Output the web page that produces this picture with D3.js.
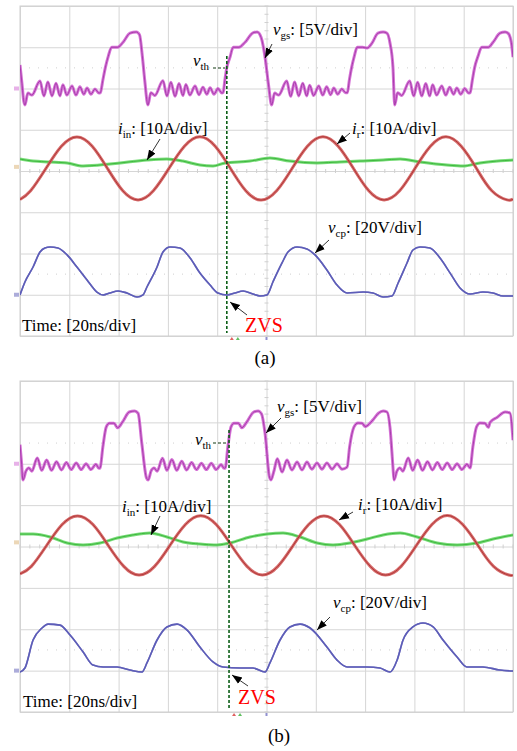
<!DOCTYPE html>
<html>
<head>
<meta charset="utf-8">
<script src="https://cdn.jsdelivr.net/npm/d3@7"></script>
<style>
  body { margin: 0; background: #fff; }
  svg text { font-family: "Liberation Serif", "DejaVu Serif", serif; fill: #000; }
</style>
</head>
<body>
<div id="container"></div>
<script>
// ---- data (time in ns, 20 ns/div; values in V or A) ----
var panelLabels = ["(a)", "(b)"];
var zvsTimeNs = [83.9, 84.8];

// channel settings: scale per div and ground offset (div from centre)
var channelNames = ["vgs", "iin", "ir", "vcp"];
var unitsPerDiv = [5, 10, 10, 20];
var groundDiv = [2, 0.1, 0.1, -3];

var vgsA = [[0,2.85],[0.8,0.6],[1.5,-1.5],[2.0,-2.0],[3.2,-0.55],[4.8,-0.8],[8.1,0.9],[9.7,-0.9],[11.3,0.8],[13.0,-0.9],[14.6,0.65],[16.2,-0.9],[17.4,0.45],[19.0,-0.8],[21.1,0.3],[22.7,-0.8],[24.3,0.2],[25.9,-0.7],[27.2,0.05],[28.8,-0.7],[30.4,-0.05],[32.0,-0.55],[32.6,-0.5],[33.6,1.0],[34.6,2.5],[35.8,3.9],[37.2,5.0],[39.6,5.0],[41.8,5.6],[44.6,6.7],[47.2,6.85],[48.5,6.5],[49.6,4.0],[50.6,1.0],[51.9,-2.0],
  [53.1,-0.5],[54.7,-0.85],[58.0,0.95],[59.6,-0.9],[61.2,0.75],[62.9,-0.95],[64.5,0.6],[66.1,-0.85],[67.3,0.5],[68.9,-0.8],[71.0,0.3],[72.6,-0.75],[74.2,0.15],[75.8,-0.7],[77.1,0.1],[78.7,-0.7],[80.3,0.0],[81.9,-0.55],[82.4,-0.5],[83.1,1.0],[83.8,2.4],[85.2,3.8],[86.5,5.0],[88.8,5.0],[91.3,5.6],[94.5,6.75],[96.2,6.85],[97.8,6.2],[99.4,3.8],[100.8,0.5],[102.1,-2.0],
  [103.3,-0.55],[104.9,-0.8],[108.2,0.9],[109.8,-0.95],[111.4,0.8],[113.1,-0.9],[114.7,0.65],[116.3,-0.9],[117.5,0.4],[119.1,-0.85],[121.2,0.3],[122.8,-0.8],[124.4,0.2],[126.0,-0.75],[127.3,0.05],[128.9,-0.7],[130.5,-0.05],[132.1,-0.5],[132.8,-0.5],[133.6,1.0],[134.5,2.5],[135.6,3.9],[136.8,5.0],[139.0,5.0],[140.8,4.9],[142.8,5.5],[145.2,6.7],[147.3,6.85],[148.9,6.7],[150.1,5.5],[151.3,2.6],[152.0,-2.0],
  [153.2,-0.5],[154.8,-0.85],[158.1,0.9],[159.7,-0.9],[161.3,0.75],[163.0,-0.9],[164.6,0.6],[166.2,-0.9],[167.4,0.45],[169.0,-0.8],[171.1,0.3],[172.7,-0.8],[174.3,0.15],[175.9,-0.7],[177.2,0.05],[178.8,-0.7],[180.4,0.0],[182.0,-0.55],[182.6,-0.5],[183.5,1.0],[184.4,2.5],[185.8,3.9],[187.3,5.0],[190.0,5.0],[191.9,5.6],[194.7,6.7],[196.8,6.85],[198.0,6.7],[199.3,5.6],[200,3.8]];

var irA = [[0,-7.9],[4.3,-5.8],[10.5,-0.4],[16.8,5.0],[23.1,7.25],[29.3,5.0],[35.5,-0.4],[41.7,-5.8],[47.9,-8.0],[54.1,-5.8],[60.4,-0.4],[66.7,5.0],[73.0,7.3],[79.2,5.0],[85.4,-0.4],[91.6,-5.8],[97.8,-8.05],[104.1,-5.8],[110.3,-0.45],[116.6,5.0],[122.9,7.3],[129.1,5.0],[135.3,-0.4],[141.5,-5.8],[147.7,-8.0],[154.0,-5.8],[160.2,-0.4],[166.5,5.0],[172.8,7.3],[179.0,5.0],[185.2,-0.4],[191.4,-5.8],[197.6,-8.0],[200,-7.8]];

var iinA = [[0,1.9],[5.3,1.4],[12.2,1.2],[19.1,0.95],[25.6,0.2],[36.5,0.7],[40.6,0.95],[51.5,1.65],[59.6,1.9],[66.1,1.4],[73.0,0.45],[78.3,0.2],[83.2,0.95],[93.3,1.4],[101.4,2.15],[109.5,1.4],[120.5,0.95],[129.8,1.2],[137.9,1.4],[147.3,1.65],[154.2,1.9],[162.3,1.2],[173.2,0.45],[179.7,0.2],[186.6,0.95],[200,1.65]];

var vcpA = [[0,-0.1],[2.0,6.2],[5.3,13.45],[8.1,20.7],[10.1,22.7],[12.2,23.15],[15.4,22.7],[19.1,19.3],[23.1,13.45],[27.2,7.15],[31.2,1.3],[33.7,-0.1],[36.5,0.85],[39.8,1.8],[43.4,0.85],[47.5,-1.1],[49.9,-0.1],[51.5,3.75],[55.6,13.45],[58.0,20.7],[60.9,23.15],[64.9,22.7],[69.0,17.8],[73.0,10.5],[77.1,4.7],[80.3,0.85],[84.0,-0.1],[87.2,0.85],[90.5,1.8],[94.5,0.35],[97.4,-0.6],[100.2,-0.1],[102.6,6.2],[106.3,15.4],[108.7,20.7],[112.4,23.15],[116.4,22.2],[119.7,19.3],[124.5,12.0],[128.6,4.7],[132.7,0.85],[139.2,1.3],[143.2,0.85],[147.3,-1.1],[150.9,-0.6],[153.4,5.7],[157.0,15.4],[159.4,21.7],[162.3,23.15],[166.3,22.7],[170.4,17.8],[174.5,10.5],[178.5,3.3],[182.6,0.35],[187.8,1.3],[191.9,0.85],[196.0,-0.6],[200,-0.6]];

var vgsB = [[0,2.3],[0.6,0.2],[1.2,-1.96],[2.4,-0.9],[3.6,-0.5],[4.8,-0.9],[7.0,0.7],[8.8,-0.8],[10.8,0.45],[12.8,-0.8],[14.8,0.25],[16.8,-0.75],[18.8,0.15],[20.8,-0.7],[22.8,0.1],[24.8,-0.7],[26.8,0.0],[28.8,-0.7],[30.8,-0.05],[32.0,-0.55],[32.5,-0.5],[33.6,2.0],[35.0,4.45],[36.3,4.9],[38.1,4.9],[39.6,4.35],[41.6,5.05],[44.3,6.25],[46.5,6.37],[47.9,6.1],[49.4,2.5],[51.3,-1.7],[52.0,-1.96],
  [53.2,-0.85],[54.4,-0.5],[55.6,-0.9],[57.8,0.65],[59.6,-0.8],[61.6,0.5],[63.6,-0.8],[65.6,0.3],[67.6,-0.75],[69.6,0.15],[71.6,-0.7],[73.6,0.05],[75.6,-0.7],[77.6,0.05],[79.6,-0.7],[81.6,-0.1],[82.8,-0.55],[83.3,-0.5],[84.3,2.0],[85.6,4.45],[86.8,4.9],[88.6,4.9],[90.0,4.35],[92.0,5.05],[94.8,6.25],[96.6,6.37],[98.0,6.0],[99.4,3.7],[101.2,-1.6],[101.8,-1.96],
  [103.0,-0.9],[104.4,0.6],[106.3,-1.0],[108.3,0.45],[110.3,-0.75],[112.4,0.2],[114.4,-0.75],[116.4,0.2],[118.4,-0.65],[120.5,0.1],[122.5,-0.65],[124.5,0.1],[126.6,-0.65],[128.6,0.0],[130.6,-0.65],[132.7,-0.4],[133.7,2.0],[135.5,4.45],[137.1,4.92],[138.8,4.9],[140.0,4.5],[143.2,5.3],[145.4,6.1],[147.3,6.37],[148.9,6.25],[150.1,4.4],[151.3,-0.4],[151.7,-1.96],
  [152.9,-0.9],[154.1,-0.5],[155.3,-0.9],[157.5,0.7],[159.3,-0.8],[161.3,0.45],[163.3,-0.8],[165.3,0.25],[167.3,-0.75],[169.3,0.15],[171.3,-0.7],[173.3,0.1],[175.3,-0.7],[177.3,0.0],[179.3,-0.7],[181.3,-0.05],[182.6,-0.5],[183.7,2.0],[185.2,4.45],[186.6,4.92],[188.6,4.9],[190.0,4.4],[190.7,5.0],[193.5,5.6],[196.8,6.25],[198.8,6.13],[200,2.85]];

var irB = [[0,-7.6],[4.6,-5.8],[10.8,-0.75],[17.1,4.3],[23.3,6.4],[29.6,4.3],[35.8,-0.75],[42.1,-5.8],[48.3,-7.9],[54.6,-5.8],[60.8,-0.75],[67.1,4.3],[73.3,6.45],[79.6,4.3],[85.8,-0.75],[92.1,-5.8],[98.3,-7.9],[104.6,-5.8],[110.8,-0.75],[117.1,4.3],[123.3,6.4],[129.6,4.3],[135.8,-0.75],[142.1,-5.8],[148.3,-7.9],[154.6,-5.8],[160.8,-0.75],[167.1,4.3],[173.3,6.5],[179.6,4.3],[185.8,-0.75],[192.1,-5.8],[198.3,-7.9],[200,-7.8]];

var iinB = [[0,2.0],[5.3,2.0],[12.2,1.3],[19.1,-0.15],[25.6,-0.63],[32.5,-0.15],[39.4,1.05],[45.8,1.8],[52.7,2.25],[59.6,1.3],[66.1,0.1],[73.0,-0.4],[79.9,-0.63],[85.2,-0.15],[93.3,1.3],[100.2,2.0],[106.7,2.25],[113.6,1.3],[120.5,-0.15],[127.0,-0.63],[133.9,-0.15],[140.8,0.8],[147.3,1.8],[154.2,2.25],[161.1,1.3],[169.2,-0.15],[177.3,-0.63],[185.4,-0.15],[191.9,0.8],[200,1.8]];

var vcpB = [[0,-0.7],[2.0,1.25],[5.3,14.8],[8.9,20.6],[11.4,22.5],[16.2,22.0],[20.3,17.2],[25.6,9.0],[29.6,2.7],[33.7,1.75],[39.4,1.75],[44.6,0.3],[49.5,-0.7],[51.5,3.7],[55.6,14.8],[59.6,21.1],[63.7,22.5],[67.8,19.6],[73.0,11.4],[78.3,4.2],[82.4,1.75],[89.3,1.25],[94.5,1.25],[99.4,-0.7],[101.4,3.7],[105.5,14.8],[109.5,21.1],[113.6,22.5],[117.7,20.6],[124.5,11.4],[128.6,5.1],[132.7,1.75],[140.8,1.75],[146.0,1.25],[150.1,-0.7],[153.0,5.1],[155.4,14.8],[159.4,21.1],[163.5,23.0],[167.6,21.1],[171.6,14.8],[177.3,6.6],[181.3,1.75],[187.8,1.75],[194.7,0.3],[200,-0.2]];

// ---- layout & style ----
var totalWidth = 517, totalHeight = 751;
var plotLeft = 20, plotWidth = 493;
var traceColors = {vgs: ["#d064d2", "#9c2fa0"], iin: ["#6ad86a", "#2fae2f"], ir: ["#d25a5a", "#a52a2a"], vcp: ["#5a5ab6", "#5a5ab6"]};
var traceWidths = {vgs: [3, 1], iin: [3, 1], ir: [3, 1], vcp: [1.6, 1.6]};
var serif = "'Liberation Serif', 'DejaVu Serif', serif";

// annotation layout (panel-local pixels)
var notesA = [
  {sym: "v", sub: "gs", rest: ": [5V/div]", x: 253, y: 29, arrow: [252, 38, 245, 52]},
  {sym: "i", sub: "in", rest: ": [10A/div]", x: 98, y: 128, arrow: [140, 133, 127, 154]},
  {sym: "i", sub: "r", rest: ": [10A/div]", x: 332, y: 128, arrow: [330, 127, 317, 138]},
  {sym: "v", sub: "cp", rest: ": [20V/div]", x: 308, y: 227, arrow: [309, 234, 295, 247]}
];
var notesB = [
  {sym: "v", sub: "gs", rest: ": [5V/div]", x: 257, y: 31, arrow: [261, 37, 246, 52]},
  {sym: "i", sub: "in", rest: ": [10A/div]", x: 102, y: 131, arrow: [140, 135, 131, 154]},
  {sym: "i", sub: "r", rest: ": [10A/div]", x: 338, y: 129, arrow: [333, 131, 319, 139]},
  {sym: "v", sub: "cp", rest: ": [20V/div]", x: 313, y: 227, arrow: [310, 236, 297, 249]}
];

var panels = [
  {top: 6, height: 330, label: panelLabels[0], labelX: 265, labelY: 364, zvs: zvsTimeNs[0],
   traces: {vgs: vgsA, iin: iinA, ir: irA, vcp: vcpA}, notes: notesA,
   vth: {x: 173, y: 60, dash: [193, 205, 62]}, zvsText: [225, 326], zvsArrow: [227, 309, 210, 296], timeText: [2, 325], lineTop: 50},
  {top: 381, height: 331, label: panelLabels[1], labelX: 279, labelY: 742, zvs: zvsTimeNs[1],
   traces: {vgs: vgsB, iin: iinB, ir: irB, vcp: vcpB}, notes: notesB,
   vth: {x: 175, y: 64, dash: [193, 208, 62]}, zvsText: [218, 323], zvsArrow: [228, 305, 212, 294], timeText: [3, 326], lineTop: 49}
];

var svg = d3.select("#container")
            .append("svg")
            .attr("width", totalWidth)
            .attr("height", totalHeight)
            .attr("font-family", serif);

var defs = svg.append("defs");
defs.append("marker")
    .attr("id", "arrowhead")
    .attr("viewBox", "0 0 10 10")
    .attr("refX", 10).attr("refY", 5)
    .attr("markerWidth", 10).attr("markerHeight", 10)
    .attr("markerUnits", "userSpaceOnUse")
    .attr("orient", "auto")
    .append("path").attr("d", "M0,1.2L10,5L0,8.8Z").attr("fill", "#000");

var xScale = d3.scaleLinear().domain([0, 200]).range([0, plotWidth]);
var xDiv = d3.scaleLinear().domain([0, 10]).range([0, plotWidth]);

panels.forEach(function(p, pi) {
  var h = p.height;
  var yDiv = d3.scaleLinear().domain([-4, 4]).range([h, 0]);
  var g = svg.append("g").attr("transform", "translate(" + plotLeft + "," + p.top + ")");

  defs.append("clipPath").attr("id", "clip" + pi)
      .append("rect").attr("x", 0).attr("y", 0).attr("width", plotWidth).attr("height", h);

  // grid from axes
  g.append("g").attr("class", "grid")
   .attr("transform", "translate(0," + h + ")")
   .call(d3.axisBottom(xDiv).ticks(10).tickSize(-h).tickFormat(""));
  g.append("g").attr("class", "grid")
   .call(d3.axisLeft(yDiv).ticks(8).tickSize(-plotWidth).tickFormat(""));
  g.selectAll(".grid .domain").remove();
  g.selectAll(".grid line").attr("stroke", "#d6d6d6").attr("stroke-width", 1);

  // dotted half-division rows and centre minor ticks
  [2.5, -2.5].forEach(function(d) {
    g.append("line").attr("x1", 0).attr("x2", plotWidth)
     .attr("y1", yDiv(d)).attr("y2", yDiv(d))
     .attr("stroke", "#cfcfcf").attr("stroke-dasharray", "1,8");
  });
  g.append("g").selectAll("line").data(d3.range(0, 10.01, 0.2)).enter()
   .append("line")
   .attr("x1", function(d) { return xDiv(d); }).attr("x2", function(d) { return xDiv(d); })
   .attr("y1", yDiv(0) - 2).attr("y2", yDiv(0) + 2)
   .attr("stroke", "#d0d0d0");
  g.append("g").selectAll("line").data(d3.range(-4, 4.01, 0.2)).enter()
   .append("line")
   .attr("y1", function(d) { return yDiv(d); }).attr("y2", function(d) { return yDiv(d); })
   .attr("x1", xDiv(5) - 2).attr("x2", xDiv(5) + 2)
   .attr("stroke", "#d0d0d0");
  g.append("rect").attr("width", plotWidth).attr("height", h)
   .attr("fill", "none").attr("stroke", "#cfcfcf");

  // ground markers at left edge
  channelNames.forEach(function(name, ci) {
    if (name === "ir") return;
    g.append("rect").attr("x", -6).attr("y", yDiv(groundDiv[ci]) - 2)
     .attr("width", 5).attr("height", 4)
     .attr("fill", name === "iin" ? "#d9b070" : traceColors[name][0]).attr("opacity", 0.5);
  });

  // traces
  var tg = g.append("g").attr("clip-path", "url(#clip" + pi + ")");
  ["iin", "ir", "vgs", "vcp"].forEach(function(name) {
    var ci = channelNames.indexOf(name);
    var line = d3.line()
        .x(function(d) { return xScale(d[0]); })
        .y(function(d) { return yDiv(groundDiv[ci] + d[1] / unitsPerDiv[ci]); })
        .curve(name === "ir" ? d3.curveNatural : d3.curveMonotoneX);
    [0, 1].forEach(function(k) {
      tg.append("path").datum(p.traces[name])
        .attr("d", line)
        .attr("fill", "none")
        .attr("stroke", traceColors[name][k])
        .attr("stroke-width", traceWidths[name][k])
        .attr("stroke-linejoin", "round")
        .attr("opacity", k === 0 ? 0.9 : 0.8);
    });
  });

  // ZVS cursor
  var zx = xScale(p.zvs);
  g.append("line").attr("x1", zx).attr("x2", zx).attr("y1", p.lineTop).attr("y2", h - 3)
   .attr("stroke", "#0b5e16").attr("stroke-width", 1.6).attr("stroke-dasharray", "3,2");

  // v_th
  var vt = g.append("text").attr("x", p.vth.x).attr("y", p.vth.y)
            .attr("font-family", serif).attr("font-size", 17);
  vt.append("tspan").attr("font-style", "italic").text("v");
  vt.append("tspan").attr("font-size", 11).attr("dy", 4).text("th");
  g.append("line").attr("x1", p.vth.dash[0]).attr("x2", p.vth.dash[1])
   .attr("y1", p.vth.dash[2]).attr("y2", p.vth.dash[2])
   .attr("stroke", "#123a12").attr("stroke-width", 1.2).attr("stroke-dasharray", "3,2");

  // channel labels with arrows
  p.notes.forEach(function(n) {
    var t = g.append("text").attr("x", n.x).attr("y", n.y)
             .attr("font-family", serif).attr("font-size", 17);
    t.append("tspan").attr("font-style", "italic").text(n.sym);
    t.append("tspan").attr("font-size", 11).attr("dy", 4).text(n.sub);
    t.append("tspan").attr("dy", -4).text(n.rest);
    g.append("line").attr("x1", n.arrow[0]).attr("y1", n.arrow[1])
     .attr("x2", n.arrow[2]).attr("y2", n.arrow[3])
     .attr("stroke", "#000").attr("stroke-width", 0.8)
     .attr("marker-end", "url(#arrowhead)");
  });

  g.append("text").attr("x", p.timeText[0]).attr("y", p.timeText[1])
   .attr("font-family", serif).attr("font-size", 17).text("Time: [20ns/div]");
  g.append("text").attr("x", p.zvsText[0]).attr("y", p.zvsText[1])
   .attr("font-family", serif).attr("font-size", 20).style("fill", "#ff0000").text("ZVS");
  g.append("line").attr("x1", p.zvsArrow[0]).attr("y1", p.zvsArrow[1])
   .attr("x2", p.zvsArrow[2]).attr("y2", p.zvsArrow[3])
   .attr("stroke", "#000").attr("stroke-width", 0.8)
   .attr("marker-end", "url(#arrowhead)");

  // trigger markers below the grid
  g.append("path").attr("d", "M" + (zx + 3) + "," + (h + 4) + "l2,-3l2,3z").attr("fill", "#e06060");
  g.append("path").attr("d", "M" + (zx + 9) + "," + (h + 4) + "l2,-3l2,3z").attr("fill", "#60c060");
  g.append("rect").attr("x", xDiv(5) - 1).attr("y", h + 1).attr("width", 2).attr("height", 3).attr("fill", "#9090d0");

  svg.append("text").attr("x", p.labelX).attr("y", p.labelY)
     .attr("font-family", serif)
     .attr("text-anchor", "middle").attr("font-size", 19).text(p.label);
});
</script>
</body>
</html>
